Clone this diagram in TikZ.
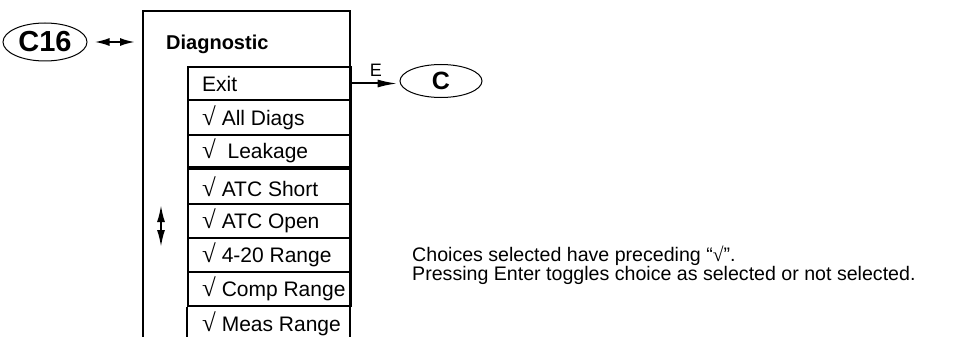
\documentclass[tikz,border=0pt]{standalone}
\usepackage{fontspec}
\setmainfont{Liberation Sans}
\newfontfamily\checkfont{Liberation Serif}
\newcommand{\chk}{{\checkfont\fontsize{25}{25}\selectfont √}}
\usetikzlibrary{shapes.geometric,arrows.meta}

\tikzset{
  boxline/.style={line width=2pt},
  menurow/.style={draw, line width=2pt, anchor=north west, minimum width=163pt, inner sep=0pt},
  rowtext/.style={anchor=west, inner sep=0pt, xshift=15pt, font=\fontsize{21}{25}\selectfont},
  jump/.style={draw, ellipse, line width=1pt, inner sep=0pt},
}

\begin{document}
\begin{tikzpicture}[x=1pt,y=-1pt]
  \useasboundingbox (0,0) rectangle (964,337);
  % outer menu box, open at the bottom
  \coordinate (boxtl) at (143,11);
  \coordinate (boxtr) at (350,11);
  \coordinate (boxbl) at (143,337);
  \coordinate (boxbr) at (350,337);
  \draw[boxline] (boxbl) -- (boxtl) -- (boxtr) -- (boxbr);
  \node[anchor=base west, inner sep=0pt, font=\bfseries\fontsize{20}{24}\selectfont] (title) at (166,50) {Diagnostic};

  % menu rows
  \node[menurow, minimum height=33pt, label={[rowtext]west:Exit}] (exit) at (187,66) {};
  \node[menurow, minimum height=35pt, label={[rowtext]west:\chk\ All Diags}] (alldiags) at (187,99) {};
  \node[menurow, minimum height=32pt, label={[rowtext]west:\chk\ \ Leakage}] (leakage) at (187,134) {};
  \node[menurow, minimum height=35pt, label={[rowtext]west:\chk\ ATC Short}] (atcshort) at (187,168) {};
  \node[menurow, minimum height=34pt, label={[rowtext]west:\chk\ ATC Open}] (atcopen) at (187,203) {};
  \node[menurow, minimum height=34pt, label={[rowtext]west:\chk\ 4-20 Range}] (range) at (187,237) {};
  \node[menurow, minimum height=34pt, label={[rowtext]west:\chk\ Comp Range}] (comprange) at (187,271) {};
  \draw[boxline] (comprange.south west) -- (comprange.south west |- boxbl);
  \path (comprange.south west) ++(0,17) node[rowtext] (measrange) {\chk\ Meas Range};

  % jumps
  \node[jump, minimum width=84pt, minimum height=38pt, font=\bfseries\fontsize{29}{34}\selectfont] (c16) at (45,42) {C16};
  \node[jump, minimum width=82pt, minimum height=33pt, font=\bfseries\fontsize{25}{30}\selectfont] (cmenu) at (441,81) {C};
  \draw[line width=2pt, {Latex[length=15pt,width=8pt]}-{Latex[length=15pt,width=8pt]}, shorten <=7pt, shorten >=8pt]
    (c16.east) -- (c16.east -| boxtl);
  \draw[line width=2pt, -{Latex[length=20pt,width=8pt]}, shorten >=2pt]
    (exit.east) -- (exit.east -| cmenu.west)
    node[midway, above=5pt, inner sep=1pt, font=\fontsize{18}{22}\selectfont] (enterkey) {E};

  % scroll arrow
  \coordinate (scrolltop) at (161,205);
  \coordinate (scrollbot) at (161,247);
  \draw[line width=2pt, {Latex[length=17pt,width=8pt]}-{Latex[length=17pt,width=8pt]}] (scrolltop) -- (scrollbot);

  \node[anchor=north west, align=left, inner sep=0pt, font=\fontsize{19.6}{19}\selectfont] (note) at (412,246)
    {Choices selected have preceding “{\checkfont √}”.\\Pressing Enter toggles choice as selected or not selected.};
\end{tikzpicture}
\end{document}
